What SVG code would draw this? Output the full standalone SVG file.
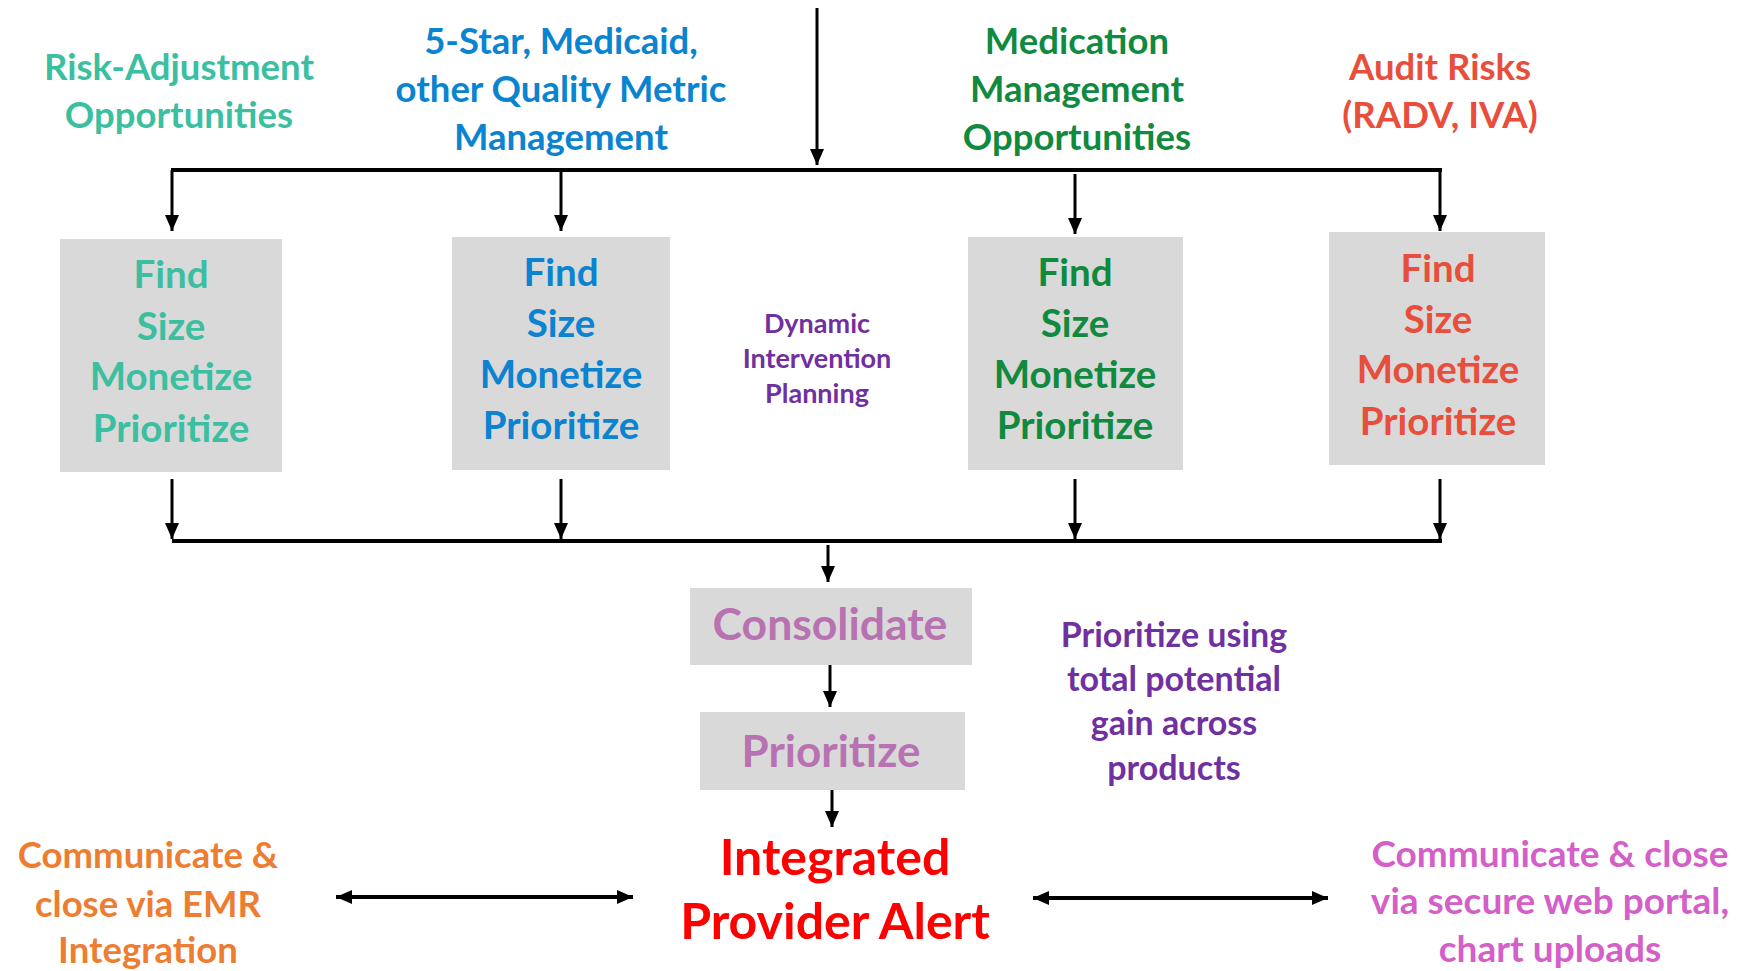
<svg xmlns="http://www.w3.org/2000/svg" width="1745" height="971" viewBox="0 0 1745 971">
<defs>
<marker id="ah" markerUnits="userSpaceOnUse" markerWidth="16" markerHeight="16" viewBox="0 0 16 16" refX="16" refY="8" orient="auto-start-reverse">
<path d="M0,1 L16,8 L0,15 Z" fill="#000"/>
</marker>
<style>
text{font-family:Lato,"Liberation Sans",sans-serif;font-weight:bold;text-anchor:middle}
.box{fill:#D9D9D9}
.ln{stroke:#000;stroke-width:3;fill:none}
.hl{stroke:#000;stroke-width:4;fill:none}
.bt{font-size:38.5px}
.tl{font-size:36.5px}
.teal{fill:#3BBFA0}
.blue{fill:#0A83D0}
.green{fill:#108A3E}
.red{fill:#E84E3C}
.orch{fill:#B872B2}
.purp{fill:#7030A0}
</style>
</defs>
<rect width="1745" height="971" fill="#fff"/>

<g id="connectors">
<line class="ln" x1="817" y1="8" x2="817" y2="165" marker-end="url(#ah)"/>
<line class="hl" x1="171" y1="170" x2="1442" y2="170"/>
<line class="ln" x1="172" y1="170" x2="172" y2="231" marker-end="url(#ah)"/>
<line class="ln" x1="561" y1="170" x2="561" y2="231" marker-end="url(#ah)"/>
<line class="ln" x1="1075" y1="174" x2="1075" y2="234" marker-end="url(#ah)"/>
<line class="ln" x1="1440" y1="170" x2="1440" y2="231" marker-end="url(#ah)"/>
<line class="ln" x1="172" y1="479" x2="172" y2="539" marker-end="url(#ah)"/>
<line class="ln" x1="561" y1="479" x2="561" y2="539" marker-end="url(#ah)"/>
<line class="ln" x1="1075" y1="479" x2="1075" y2="539" marker-end="url(#ah)"/>
<line class="ln" x1="1440" y1="479" x2="1440" y2="539" marker-end="url(#ah)"/>
<line class="hl" x1="172" y1="541" x2="1442" y2="541"/>
<line class="ln" x1="828" y1="545" x2="828" y2="582" marker-end="url(#ah)"/>
<line class="ln" x1="830" y1="665" x2="830" y2="707" marker-end="url(#ah)"/>
<line class="ln" x1="832" y1="790" x2="832" y2="827" marker-end="url(#ah)"/>
<line class="hl" x1="336" y1="897" x2="633" y2="897" marker-start="url(#ah)" marker-end="url(#ah)"/>
<line class="hl" x1="1033" y1="898" x2="1328" y2="898" marker-start="url(#ah)" marker-end="url(#ah)"/>
</g>

<g id="label-risk">
<text class="tl teal" x="179" y="80">Risk-Adjustment</text>
<text class="tl teal" x="179" y="128">Opportunities</text>
</g>
<g id="label-quality">
<text class="tl blue" x="561" y="54">5-Star, Medicaid,</text>
<text class="tl blue" x="561" y="102">other Quality Metric</text>
<text class="tl blue" x="561" y="150">Management</text>
</g>
<g id="label-medication">
<text class="tl green" x="1077" y="54">Medication</text>
<text class="tl green" x="1077" y="102">Management</text>
<text class="tl green" x="1077" y="150">Opportunities</text>
</g>
<g id="label-audit">
<text class="tl red" x="1440" y="80">Audit Risks</text>
<text class="tl red" x="1440" y="128">(RADV, IVA)</text>
</g>

<g id="box-risk">
<rect class="box" x="60" y="239" width="222" height="233"/>
<text class="bt teal" x="171" y="288">Find</text>
<text class="bt teal" x="171" y="340">Size</text>
<text class="bt teal" x="171" y="390">Monetize</text>
<text class="bt teal" x="171" y="442">Prioritize</text>
</g>
<g id="box-quality">
<rect class="box" x="452" y="237" width="218" height="233"/>
<text class="bt blue" x="561" y="286">Find</text>
<text class="bt blue" x="561" y="337">Size</text>
<text class="bt blue" x="561" y="388">Monetize</text>
<text class="bt blue" x="561" y="439">Prioritize</text>
</g>
<g id="label-dynamic">
<text class="purp" font-size="27" x="817" y="333">Dynamic</text>
<text class="purp" font-size="27" x="817" y="368">Intervention</text>
<text class="purp" font-size="27" x="817" y="403">Planning</text>
</g>
<g id="box-medication">
<rect class="box" x="968" y="237" width="215" height="233"/>
<text class="bt green" x="1075" y="286">Find</text>
<text class="bt green" x="1075" y="337">Size</text>
<text class="bt green" x="1075" y="388">Monetize</text>
<text class="bt green" x="1075" y="439">Prioritize</text>
</g>
<g id="box-audit">
<rect class="box" x="1329" y="232" width="216" height="233"/>
<text class="bt red" x="1438" y="282">Find</text>
<text class="bt red" x="1438" y="333">Size</text>
<text class="bt red" x="1438" y="383">Monetize</text>
<text class="bt red" x="1438" y="435">Prioritize</text>
</g>

<g id="box-consolidate">
<rect class="box" x="690" y="588" width="282" height="77"/>
<text class="orch" font-size="44.5" x="830" y="640">Consolidate</text>
</g>
<g id="box-prioritize">
<rect class="box" x="700" y="712" width="265" height="78"/>
<text class="orch" font-size="44" x="831" y="767">Prioritize</text>
</g>
<g id="label-prioritize-using">
<text class="purp" font-size="34" x="1174" y="647">Prioritize using</text>
<text class="purp" font-size="34" x="1174" y="691">total potential</text>
<text class="purp" font-size="34" x="1174" y="735">gain across</text>
<text class="purp" font-size="34" x="1174" y="780">products</text>
</g>
<g id="node-alert">
<text font-size="50" fill="#FF0000" x="835" y="875">Integrated</text>
<text font-size="50" fill="#FF0000" x="835" y="939">Provider Alert</text>
</g>
<g id="label-emr">
<text font-size="36.5" fill="#ED7D31" x="148" y="868">Communicate &amp;</text>
<text font-size="36.5" fill="#ED7D31" x="148" y="917">close via EMR</text>
<text font-size="36.5" fill="#ED7D31" x="148" y="963">Integration</text>
</g>
<g id="label-portal">
<text font-size="37" fill="#D45FC8" x="1550" y="867">Communicate &amp; close</text>
<text font-size="37" fill="#D45FC8" x="1550" y="914">via secure web portal,</text>
<text font-size="37" fill="#D45FC8" x="1550" y="962">chart uploads</text>
</g>
</svg>
